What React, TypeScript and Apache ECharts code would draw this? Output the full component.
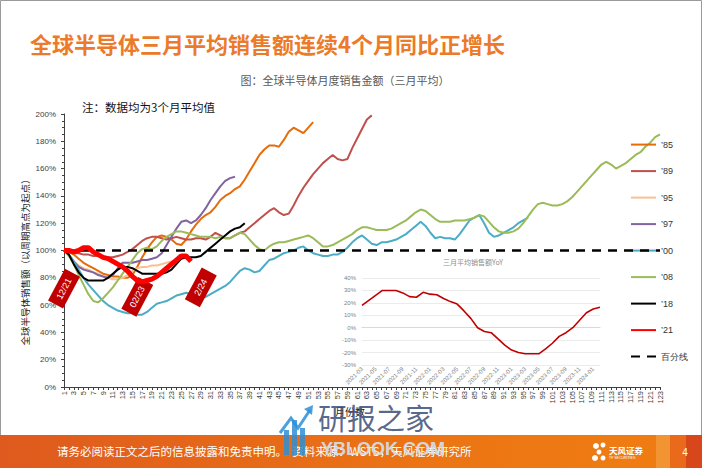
import React, { useEffect, useRef } from "react";
import * as echarts from "echarts";

// ---- data ----
const months: string[] = Array.from({ length: 123 }, (_, i) => String(i + 1));

const s85 = [100,99,97,94,91,89,87,85,83,82, 81,81,80,80,82,88,95,101,106,110, 111,110,108,105,104,108,114,119,123,126, 128,132,137,140,142,145,147,152,158,164, 170,174,177,177,176,181,187,190,188,186, 190,194];
const s89 = [100,99,98,98,97,97,96,96,95,95, 95,96,97,99,101,104,107,109,110,110, 109,108,109,110,109,108,108,109,109,108, 110,113,111,109,109,111,113,114,117,120, 123,126,129,131,128,126,127,133,140,146, 151,156,160,164,167,170,167,166,167,175, 182,189,196,199];
const s95 = [100,96,92,89,87,86,84,83,81,80, 79,79,80,82,85,87,88,88,89,89, 90,91,92,93,95,96];
const s97 = [100,97,92,88,86,85,84,82,81,80, 82,87,91,91,91,92,93,93,94,95, 98,104,110,116,121,122,120,122,126,131, 137,142,147,151,153,154];
const s00 = [100,97,92,86,80,75,71,67,63,60, 58,56,55,54,54,53,53,55,58,61, 62,63,65,67,68,69,68,66,66,66, 68,70,72,74,77,81,85,87,86,84, 85,89,93,94,96,98,99,100,102,103, 100,98,97,96,96,97,97,99,102,106, 109,111,108,105,104,106,106,107,108,110, 112,115,118,121,118,113,109,110,109,109, 108,112,117,122,124,126,120,113,110,111, 113,115,117,120,122,124];
const s08 = [100,96,90,82,75,68,63,62,65,69, 73,78,83,88,93,98,101,102,101,103, 107,110,112,114,114,113,112,111,110,110, 110,109,110,109,109,111,113,112,108,104, 101,100,103,105,106,106,107,108,109,110, 111,109,106,103,103,104,106,108,110,112, 115,117,117,116,115,115,115,116,118,120, 122,125,128,130,129,126,123,121,121,121, 122,122,122,123,124,126,125,121,117,114, 113,113,114,116,120,125,130,134,135,134, 133,133,134,136,139,143,147,151,155,159, 163,165,163,160,162,164,167,170,172,176, 179,183,185];
const s18 = [100,97,90,84,80,78,78,78,78,80, 83,86,88,88,87,85,83,83,83,83, 83,84,86,90,94,95,95,95,96,99, 102,105,108,111,114,116,117,120];
const s21 = [100,100,99,100,102,102,99,97,95,94, 92,90,88,85,81,78,77,78,79,81, 84,87,90,93,96,96,92];
const baseline = months.map(() => 100);

const seriesNames = ["’85", "’89", "’95", "’97", "’00", "’08", "’18", "’21", "百分线"];
const seriesColors = ["#E46C0A", "#C0504D", "#FAC090", "#8064A2", "#4BACC6", "#9BBB59", "#000000", "#FF0000", "#000000"];

const yTicks = [0, 200, 20];

const yoyDates = [
  "2021-03","2021-04","2021-05","2021-06","2021-07","2021-08","2021-09","2021-10","2021-11","2021-12",
  "2022-01","2022-02","2022-03","2022-04","2022-05","2022-06","2022-07","2022-08","2022-09","2022-10","2022-11","2022-12",
  "2023-01","2023-02","2023-03","2023-04","2023-05","2023-06","2023-07","2023-08","2023-09","2023-10","2023-11","2023-12",
  "2024-01","2024-02",
];
const yoy = [18,22,26,30,30,30,28,25,24.5,28.5, 27,26.5,23.5,21,19,13.5,7.5,0,-3,-4, -9,-14,-18,-20,-21,-21,-21,-17,-12.5,-7, -4,0,6,12,15,16.5];

const cycleMarks = [
  { name: "12/21", idx: 0, v: 72 },
  { name: "02/23", idx: 15, v: 66 },
  { name: "2/24", idx: 28, v: 73 },
];

const CJK = "'Noto Sans CJK SC', 'Noto Sans', sans-serif";
const LAT = "'Liberation Sans', Arial, sans-serif";

function buildOption() {
  const datasets = [s85, s89, s95, s97, s00, s08, s18, s21, baseline];
  const series: any[] = datasets.map((d, i) => {
    const name = seriesNames[i];
    const isBase = name === "百分线";
    const is21 = name === "’21";
    const s: any = {
      name,
      type: "line",
      data: d,
      xAxisIndex: 0,
      yAxisIndex: 0,
      symbol: "none",
      smooth: false,
      z: is21 ? 5 : isBase ? 4 : 2,
      itemStyle: { color: seriesColors[i] },
      lineStyle: {
        color: seriesColors[i],
        width: is21 ? 5 : isBase ? 2.5 : 2,
        type: isBase ? [9, 7] : "solid",
      },
    };
    if (is21) {
      s.markPoint = {
        silent: true,
        symbol: "rect",
        symbolSize: [36, 17],
        symbolRotate: 62,
        itemStyle: { color: "#C00000" },
        label: {
          show: true,
          position: "inside",
          rotate: 62,
          color: "#ffffff",
          fontSize: 9,
          fontFamily: LAT,
          formatter: "{b}",
        },
        data: cycleMarks.map((m) => ({ name: m.name, coord: [m.idx, m.v] })),
      };
    }
    return s;
  });

  series.push({
    name: "YoY",
    type: "line",
    data: yoy,
    xAxisIndex: 1,
    yAxisIndex: 1,
    symbol: "none",
    itemStyle: { color: "#C00000" },
    lineStyle: { color: "#C00000", width: 1.6 },
    z: 3,
  });

  const graphic: any[] = [
    { type: "rect", shape: { x: 0.5, y: 0.5, width: 701, height: 467 }, style: { fill: "none", stroke: "#9a9a9a", lineWidth: 1 }, silent: true },
    { type: "text", x: 30, y: 43, style: { text: "全球半导体三月平均销售额连续4个月同比正增长", fill: "#EB7A2A", fontSize: 22, fontWeight: "bold", fontFamily: CJK, textVerticalAlign: "middle" } },
    { type: "text", x: 345, y: 80, style: { text: "图：全球半导体月度销售金额（三月平均）", fill: "#595959", fontSize: 11, fontFamily: CJK, textAlign: "center", textVerticalAlign: "middle" } },
    { type: "text", x: 82, y: 107, style: { text: "注：数据均为3个月平均值", fill: "#111", fontSize: 11.5, fontFamily: CJK, textVerticalAlign: "middle" } },
    { type: "text", x: 25, y: 260, rotation: Math.PI / 2, style: { text: "全球半导体销售额（以周期高点为起点）", fill: "#222", fontSize: 9.5, fontFamily: CJK, textAlign: "center", textVerticalAlign: "middle" } },
    { type: "text", x: 350, y: 411, style: { text: "月份数", fill: "#222", fontSize: 10, fontFamily: CJK, textAlign: "center", textVerticalAlign: "middle" } },
    { type: "text", x: 473, y: 262, style: { text: "三月平均销售额YoY", fill: "#8c8c8c", fontSize: 7, fontFamily: CJK, textAlign: "center", textVerticalAlign: "middle" } },
    // footer
    {
      type: "rect",
      shape: { x: 0, y: 435, width: 702, height: 33 },
      style: {
        fill: { type: "linear", x: 0, y: 0, x2: 1, y2: 0, colorStops: [ { offset: 0, color: "#DE5A1E" }, { offset: 0.6, color: "#EC7414" }, { offset: 1, color: "#F07E12" } ] },
      },
      silent: true,
    },
    { type: "rect", shape: { x: 656, y: 435, width: 14, height: 33 }, style: { fill: "#F29A3A", opacity: 0.8 } },
    { type: "rect", shape: { x: 670, y: 435, width: 16, height: 33 }, style: { fill: "#E86A1A" } },
    { type: "rect", shape: { x: 686, y: 435, width: 16, height: 33 }, style: { fill: "#D8471C" } },
    { type: "text", x: 57, y: 451, style: { text: "请务必阅读正文之后的信息披露和免责申明。  资料来源：WSTS，天风证券研究所", fill: "#ffffff", fontSize: 11.5, fontFamily: CJK, textVerticalAlign: "middle" } },
    { type: "text", x: 685, y: 452, style: { text: "4", fill: "#ffffff", fontSize: 10, fontFamily: LAT, textAlign: "center", textVerticalAlign: "middle" } },
    // TF logo
    { type: "circle", shape: { cx: 596, cy: 446, r: 3 }, style: { fill: "#ffffff" } },
    { type: "circle", shape: { cx: 603, cy: 445, r: 2.5 }, style: { fill: "#ffffff" } },
    { type: "circle", shape: { cx: 599, cy: 452, r: 2.5 }, style: { fill: "#ffffff" } },
    { type: "circle", shape: { cx: 595, cy: 458, r: 3 }, style: { fill: "#ffffff" } },
    { type: "circle", shape: { cx: 603, cy: 458, r: 2.5 }, style: { fill: "#ffffff" } },
    { type: "text", x: 609, y: 450, style: { text: "天风证券", fill: "#ffffff", fontSize: 8.5, fontWeight: "bold", fontFamily: CJK, textVerticalAlign: "middle" } },
    { type: "text", x: 609, y: 458, style: { text: "TF SECURITIES", fill: "#ffffff", fontSize: 3.5, fontFamily: LAT, textVerticalAlign: "middle" } },
    // watermark
    { type: "rect", shape: { x: 284, y: 430, width: 5, height: 25 }, style: { fill: "#2E8FD6", opacity: 0.85 } },
    { type: "rect", shape: { x: 292, y: 420, width: 5, height: 35 }, style: { fill: "#2E8FD6", opacity: 0.85 } },
    { type: "rect", shape: { x: 300, y: 428, width: 5, height: 27 }, style: { fill: "#2E8FD6", opacity: 0.85 } },
    { type: "polyline", shape: { points: [[280, 433], [291, 418], [298, 428], [310, 410]] }, style: { stroke: "#2E8FD6", lineWidth: 3, fill: "none", opacity: 0.85 } },
    { type: "polygon", shape: { points: [[304, 409], [313, 405], [312, 415]] }, style: { fill: "#2E8FD6", opacity: 0.85 } },
    { type: "text", x: 318, y: 417, style: { text: "研报之家", fill: "#3B4E78", fontSize: 29, fontFamily: CJK, textVerticalAlign: "middle", opacity: 0.85 } },
    { type: "text", x: 321, y: 449, style: { text: "YBLOOK.COM", fill: "#D2E3F3", fontSize: 18, fontWeight: "bold", fontFamily: LAT, textVerticalAlign: "middle", opacity: 0.9 } },
  ];

  return {
    animation: false,
    backgroundColor: "#ffffff",
    textStyle: { fontFamily: LAT },
    legend: {
      orient: "vertical",
      left: 625,
      top: 134,
      itemWidth: 25,
      itemHeight: 14,
      itemGap: 15.3,
      data: seriesNames,
      itemStyle: { opacity: 0, borderWidth: 0 },
      textStyle: { fontSize: 9, color: "#333", fontFamily: LAT },
    },
    grid: [
      { left: 64, right: 42, top: 114, bottom: 81 },
      { left: 362, right: 102, top: 278, bottom: 103 },
    ],
    xAxis: [
      {
        type: "category",
        gridIndex: 0,
        data: months,
        boundaryGap: false,
        axisLine: { lineStyle: { color: "#404040", width: 1 } },
        axisTick: { show: true, interval: 0, length: 3, lineStyle: { color: "#404040" } },
        axisLabel: { interval: 1, rotate: 90, fontSize: 7.5, color: "#404040", margin: 4 },
        splitLine: { show: false },
      },
      {
        type: "category",
        gridIndex: 1,
        data: yoyDates,
        boundaryGap: false,
        axisLine: { show: true, onZero: true, lineStyle: { color: "#d9d9d9" } },
        axisTick: { show: false },
        axisLabel: { interval: 1, rotate: 45, fontSize: 6, color: "#7f7f7f", margin: 3 },
      },
    ],
    yAxis: [
      {
        type: "value",
        gridIndex: 0,
        min: yTicks[0],
        max: yTicks[1],
        interval: yTicks[2],
        axisLine: { show: true, lineStyle: { color: "#404040" } },
        axisTick: { show: true, length: 3, lineStyle: { color: "#404040" } },
        minorTick: { show: true, splitNumber: 4, length: 2, lineStyle: { color: "#404040" } },
        axisLabel: { formatter: "{value}%", fontSize: 8, color: "#404040", margin: 8 },
        splitLine: { show: false },
      },
      {
        type: "value",
        gridIndex: 1,
        min: -30,
        max: 40,
        interval: 10,
        axisLine: { show: false },
        axisTick: { show: false },
        axisLabel: { formatter: "{value}%", fontSize: 6, color: "#7f7f7f", margin: 6 },
        splitLine: { lineStyle: { color: "#e6e6e6", width: 0.8 } },
      },
    ],
    series,
    graphic,
  };
}

export default function App() {
  const ref = useRef<HTMLDivElement>(null);
  useEffect(() => {
    if (!ref.current) return;
    const chart = echarts.init(ref.current, null, { renderer: "svg" });
    chart.setOption(buildOption() as any);
    return () => chart.dispose();
  }, []);
  return (
    <div
      ref={ref}
      style={{ position: "fixed", left: 0, top: 0, width: 702, height: 468, background: "#fff" }}
    />
  );
}
